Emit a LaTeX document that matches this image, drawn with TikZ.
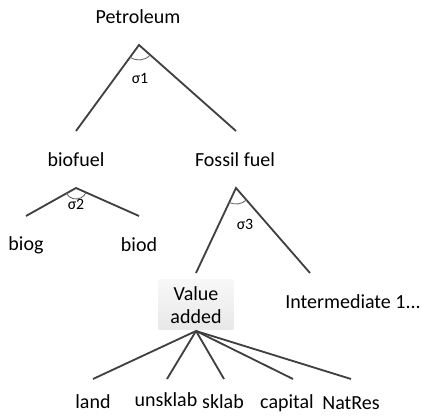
\documentclass[tikz,border=0pt]{standalone}
\usepackage{fontspec}
\setmainfont{Carlito}
\usepackage{tikz}

\begin{document}
\begin{tikzpicture}[x=0.6pt,y=0.6pt]
  \tikzstyle{every node}=[font=\fontsize{12}{14}\selectfont,inner sep=1pt]
  \tikzstyle{branch}=[draw=black!75,line width=1.1pt]
  \tikzstyle{angle}=[draw=black!60,line width=0.5pt]
  \tikzstyle{sigma}=[font=\fontsize{9.5}{11}\selectfont]
  \useasboundingbox (0,0) rectangle (422,416);
  % top nest
  \node (petro) at (138,399) {Petroleum};
  \coordinate (a1) at (139,371);
  \node (bio)    at (76,256)  {biofuel};
  \node (fossil) at (235,256) {Fossil fuel};
  \coordinate (b1) at (76,285);
  \coordinate (f1) at (236,285);
  \draw[branch] (b1) -- (a1) -- (f1);
  \draw[angle] (a1) ++(-126:15) arc (-126:-42:15);
  \node[sigma] (s1) at (140,338) {σ1};
  % biofuel nest
  \coordinate (a2) at (76,228);
  \node (biog) at (26,171)  {biog};
  \node (biod) at (139,171) {biod};
  \coordinate (g1) at (26,200);
  \coordinate (d1) at (139,200);
  \draw[branch] (g1) -- (a2) -- (d1);
  \draw[angle] (a2) ++(-151:11) arc (-151:-25:11);
  \node[sigma] (s2) at (76,212) {σ2};
  % fossil nest
  \coordinate (a3) at (236,228);
  \node[minimum width=45pt,minimum height=30pt,align=center,
        top color=black!3,bottom color=black!9] (va) at (196,111) {Value\\added};
  \node (inter) at (353,114) {Intermediate 1...};
  \coordinate (v1) at (196,143);
  \coordinate (i1) at (310,143);
  \draw[branch] (v1) -- (a3) -- (i1);
  \draw[angle] (a3) ++(-115:16) arc (-115:-49:16);
  \node[sigma] (s3) at (245,192) {σ3};
  % value added
  \coordinate (v0) at (196,85);
  \node (land)    at (93,14)  {land};
  \node (unsk)    at (166,16) {unsklab};
  \node (sk)      at (223,14) {sklab};
  \node (capital) at (287,13) {capital};
  \node (natres)  at (351,13) {NatRes};
  \foreach \x/\n in {93/land,167/unsk,224/sk,293/capital,351/natres}{
    \coordinate (\n-top) at (\x,37);
    \draw[branch] (v0) -- (\n-top);
  }
\end{tikzpicture}
\end{document}
